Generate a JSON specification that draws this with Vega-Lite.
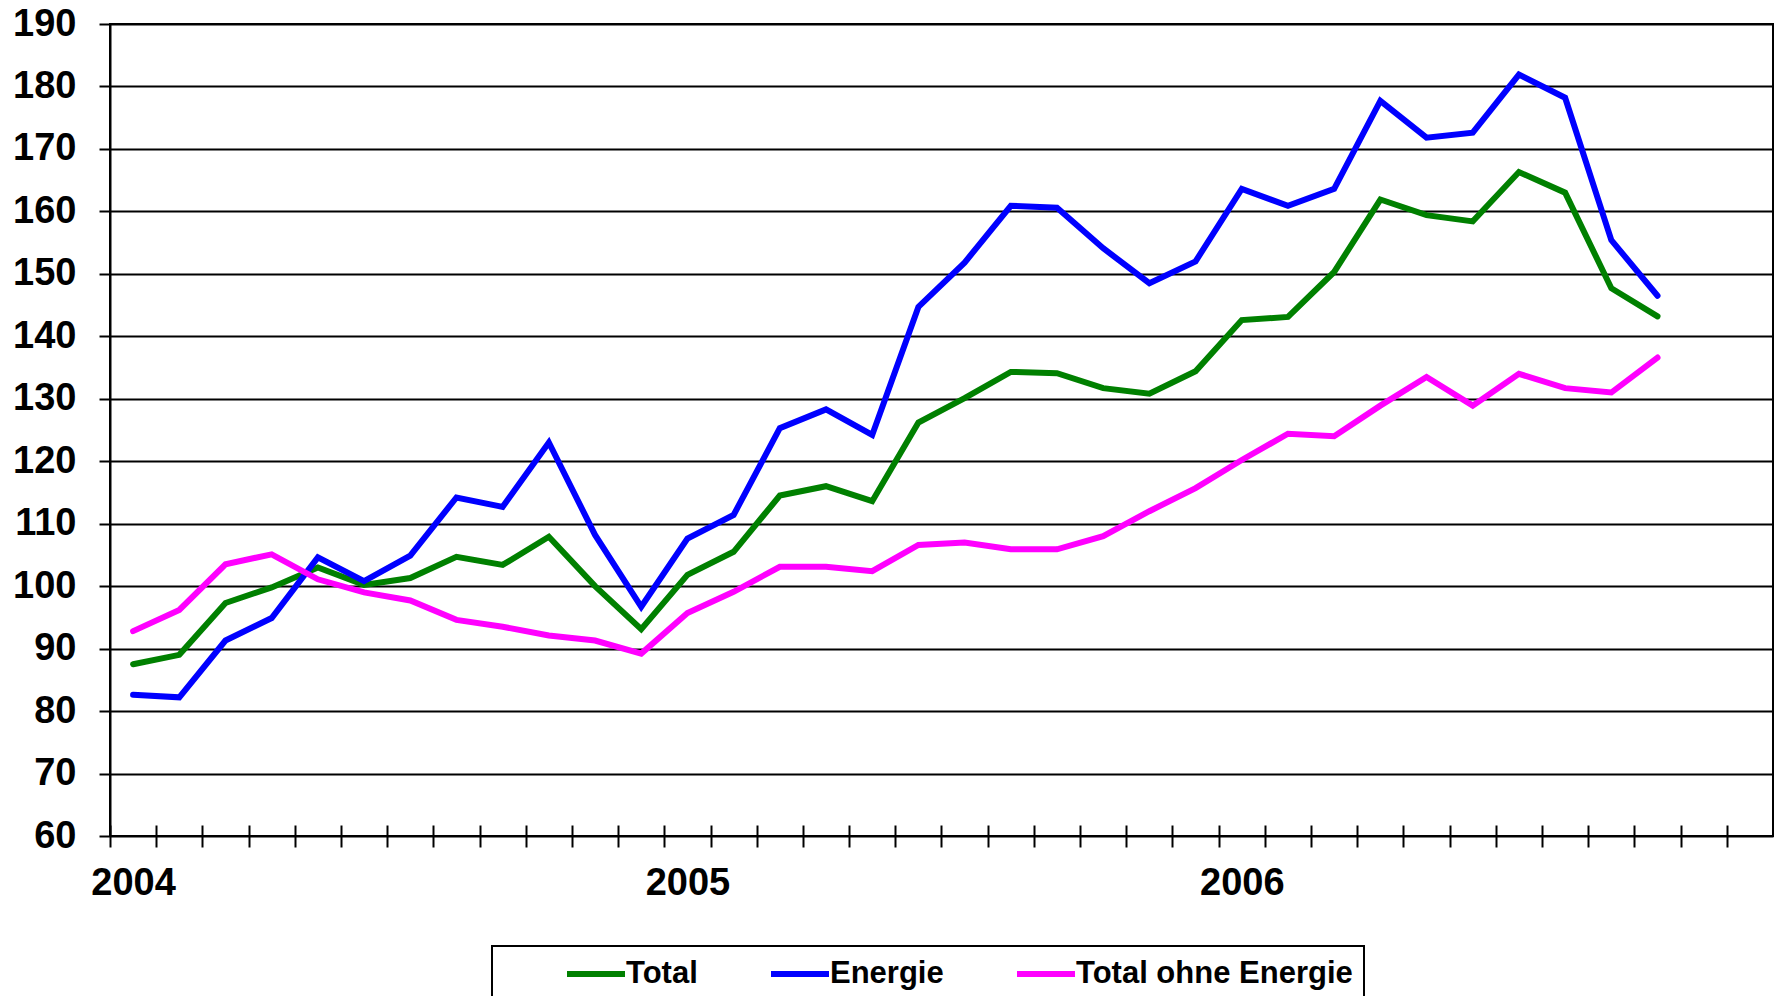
{
  "$schema": "https://vega.github.io/schema/vega-lite/v6.json",
  "width": 1663,
  "height": 812,
  "autosize": {"type": "none"},
  "padding": {"left": 110, "top": 24, "right": 5, "bottom": 160},
  "background": "white",
  "data": {
    "values": [
      {"month": "2004-01", "series": "Total", "value": 87.5},
      {"month": "2004-02", "series": "Total", "value": 89.0},
      {"month": "2004-03", "series": "Total", "value": 97.3},
      {"month": "2004-04", "series": "Total", "value": 99.8},
      {"month": "2004-05", "series": "Total", "value": 103.0},
      {"month": "2004-06", "series": "Total", "value": 100.2},
      {"month": "2004-07", "series": "Total", "value": 101.3},
      {"month": "2004-08", "series": "Total", "value": 104.7},
      {"month": "2004-09", "series": "Total", "value": 103.4},
      {"month": "2004-10", "series": "Total", "value": 107.9},
      {"month": "2004-11", "series": "Total", "value": 100.0},
      {"month": "2004-12", "series": "Total", "value": 93.1},
      {"month": "2005-01", "series": "Total", "value": 101.8},
      {"month": "2005-02", "series": "Total", "value": 105.5},
      {"month": "2005-03", "series": "Total", "value": 114.5},
      {"month": "2005-04", "series": "Total", "value": 116.0},
      {"month": "2005-05", "series": "Total", "value": 113.6},
      {"month": "2005-06", "series": "Total", "value": 126.2},
      {"month": "2005-07", "series": "Total", "value": 130.1},
      {"month": "2005-08", "series": "Total", "value": 134.3},
      {"month": "2005-09", "series": "Total", "value": 134.1},
      {"month": "2005-10", "series": "Total", "value": 131.7},
      {"month": "2005-11", "series": "Total", "value": 130.8},
      {"month": "2005-12", "series": "Total", "value": 134.4},
      {"month": "2006-01", "series": "Total", "value": 142.6},
      {"month": "2006-02", "series": "Total", "value": 143.1},
      {"month": "2006-03", "series": "Total", "value": 150.3},
      {"month": "2006-04", "series": "Total", "value": 161.9},
      {"month": "2006-05", "series": "Total", "value": 159.4},
      {"month": "2006-06", "series": "Total", "value": 158.4},
      {"month": "2006-07", "series": "Total", "value": 166.3},
      {"month": "2006-08", "series": "Total", "value": 163.0},
      {"month": "2006-09", "series": "Total", "value": 147.7},
      {"month": "2006-10", "series": "Total", "value": 143.2},
      {"month": "2004-01", "series": "Energie", "value": 82.6},
      {"month": "2004-02", "series": "Energie", "value": 82.2},
      {"month": "2004-03", "series": "Energie", "value": 91.3},
      {"month": "2004-04", "series": "Energie", "value": 94.9},
      {"month": "2004-05", "series": "Energie", "value": 104.6},
      {"month": "2004-06", "series": "Energie", "value": 100.8},
      {"month": "2004-07", "series": "Energie", "value": 104.9},
      {"month": "2004-08", "series": "Energie", "value": 114.2},
      {"month": "2004-09", "series": "Energie", "value": 112.7},
      {"month": "2004-10", "series": "Energie", "value": 123.0},
      {"month": "2004-11", "series": "Energie", "value": 108.2},
      {"month": "2004-12", "series": "Energie", "value": 96.7},
      {"month": "2005-01", "series": "Energie", "value": 107.6},
      {"month": "2005-02", "series": "Energie", "value": 111.4},
      {"month": "2005-03", "series": "Energie", "value": 125.3},
      {"month": "2005-04", "series": "Energie", "value": 128.3},
      {"month": "2005-05", "series": "Energie", "value": 124.2},
      {"month": "2005-06", "series": "Energie", "value": 144.7},
      {"month": "2005-07", "series": "Energie", "value": 151.8},
      {"month": "2005-08", "series": "Energie", "value": 160.9},
      {"month": "2005-09", "series": "Energie", "value": 160.6},
      {"month": "2005-10", "series": "Energie", "value": 154.1},
      {"month": "2005-11", "series": "Energie", "value": 148.5},
      {"month": "2005-12", "series": "Energie", "value": 152.0},
      {"month": "2006-01", "series": "Energie", "value": 163.6},
      {"month": "2006-02", "series": "Energie", "value": 160.9},
      {"month": "2006-03", "series": "Energie", "value": 163.6},
      {"month": "2006-04", "series": "Energie", "value": 177.7},
      {"month": "2006-05", "series": "Energie", "value": 171.8},
      {"month": "2006-06", "series": "Energie", "value": 172.6},
      {"month": "2006-07", "series": "Energie", "value": 181.9},
      {"month": "2006-08", "series": "Energie", "value": 178.2},
      {"month": "2006-09", "series": "Energie", "value": 155.4},
      {"month": "2006-10", "series": "Energie", "value": 146.5},
      {"month": "2004-01", "series": "Total ohne Energie", "value": 92.8},
      {"month": "2004-02", "series": "Total ohne Energie", "value": 96.2},
      {"month": "2004-03", "series": "Total ohne Energie", "value": 103.5},
      {"month": "2004-04", "series": "Total ohne Energie", "value": 105.1},
      {"month": "2004-05", "series": "Total ohne Energie", "value": 101.1},
      {"month": "2004-06", "series": "Total ohne Energie", "value": 99.0},
      {"month": "2004-07", "series": "Total ohne Energie", "value": 97.7},
      {"month": "2004-08", "series": "Total ohne Energie", "value": 94.6},
      {"month": "2004-09", "series": "Total ohne Energie", "value": 93.5},
      {"month": "2004-10", "series": "Total ohne Energie", "value": 92.1},
      {"month": "2004-11", "series": "Total ohne Energie", "value": 91.3},
      {"month": "2004-12", "series": "Total ohne Energie", "value": 89.2},
      {"month": "2005-01", "series": "Total ohne Energie", "value": 95.7},
      {"month": "2005-02", "series": "Total ohne Energie", "value": 99.1},
      {"month": "2005-03", "series": "Total ohne Energie", "value": 103.1},
      {"month": "2005-04", "series": "Total ohne Energie", "value": 103.1},
      {"month": "2005-05", "series": "Total ohne Energie", "value": 102.4},
      {"month": "2005-06", "series": "Total ohne Energie", "value": 106.6},
      {"month": "2005-07", "series": "Total ohne Energie", "value": 107.0},
      {"month": "2005-08", "series": "Total ohne Energie", "value": 105.9},
      {"month": "2005-09", "series": "Total ohne Energie", "value": 105.9},
      {"month": "2005-10", "series": "Total ohne Energie", "value": 108.0},
      {"month": "2005-11", "series": "Total ohne Energie", "value": 112.0},
      {"month": "2005-12", "series": "Total ohne Energie", "value": 115.7},
      {"month": "2006-01", "series": "Total ohne Energie", "value": 120.2},
      {"month": "2006-02", "series": "Total ohne Energie", "value": 124.4},
      {"month": "2006-03", "series": "Total ohne Energie", "value": 124.0},
      {"month": "2006-04", "series": "Total ohne Energie", "value": 128.9},
      {"month": "2006-05", "series": "Total ohne Energie", "value": 133.5},
      {"month": "2006-06", "series": "Total ohne Energie", "value": 128.9},
      {"month": "2006-07", "series": "Total ohne Energie", "value": 134.0},
      {"month": "2006-08", "series": "Total ohne Energie", "value": 131.7},
      {"month": "2006-09", "series": "Total ohne Energie", "value": 131.0},
      {"month": "2006-10", "series": "Total ohne Energie", "value": 136.6}
    ]
  },
  "mark": {"type": "line", "strokeWidth": 6, "strokeCap": "round"},
  "encoding": {
    "x": {
      "field": "month",
      "type": "ordinal",
      "scale": {
        "type": "point",
        "padding": 0.5,
        "domain": [
          "2004-01", "2004-02", "2004-03", "2004-04", "2004-05", "2004-06",
          "2004-07", "2004-08", "2004-09", "2004-10", "2004-11", "2004-12",
          "2005-01", "2005-02", "2005-03", "2005-04", "2005-05", "2005-06",
          "2005-07", "2005-08", "2005-09", "2005-10", "2005-11", "2005-12",
          "2006-01", "2006-02", "2006-03", "2006-04", "2006-05", "2006-06",
          "2006-07", "2006-08", "2006-09", "2006-10", "2006-11", "2006-12"
        ]
      },
      "axis": {
        "title": null,
        "domain": false,
        "grid": false,
        "offset": -11,
        "tickOffset": -23.1,
        "labelOffset": 23.1,
        "tickSize": 22,
        "tickWidth": 2,
        "tickColor": "black",
        "labelExpr": "slice(datum.value, 5) == '01' ? slice(datum.value, 0, 4) : ''",
        "labelAngle": 0,
        "labelOverlap": false,
        "labelFlush": false,
        "labelPadding": 17,
        "labelFont": "Liberation Sans",
        "labelFontWeight": "bold",
        "labelFontSize": 38,
        "labelColor": "black"
      }
    },
    "y": {
      "field": "value",
      "type": "quantitative",
      "scale": {"domain": [60, 190], "nice": false, "zero": false},
      "axis": {
        "title": null,
        "values": [60, 70, 80, 90, 100, 110, 120, 130, 140, 150, 160, 170, 180, 190],
        "grid": true,
        "gridColor": "black",
        "gridWidth": 2,
        "gridOpacity": 1,
        "domainColor": "black",
        "domainWidth": 2,
        "tickColor": "black",
        "tickWidth": 2,
        "tickSize": 11,
        "labelPadding": 23,
        "labelFont": "Liberation Sans",
        "labelFontWeight": "bold",
        "labelFontSize": 38,
        "labelColor": "black"
      }
    },
    "color": {
      "field": "series",
      "type": "nominal",
      "scale": {
        "domain": ["Total", "Energie", "Total ohne Energie"],
        "range": ["#008000", "#0000FF", "#FF00FF"]
      },
      "legend": {
        "title": " ",
        "titleOrient": "left",
        "titleFontSize": 31,
        "titlePadding": 61,
        "orient": "none",
        "direction": "horizontal",
        "legendX": 382,
        "legendY": 922,
        "padding": 11,
        "clipHeight": 34,
        "strokeColor": "black",
        "symbolType": "stroke",
        "symbolSize": 3364,
        "symbolStrokeWidth": 6,
        "labelOffset": -2,
        "columnPadding": 70,
        "labelLimit": 500,
        "labelFont": "Liberation Sans",
        "labelFontWeight": "bold",
        "labelFontSize": 31,
        "labelColor": "black"
      }
    }
  },
  "config": {
    "view": {"stroke": "black", "strokeWidth": 2},
    "legend": {"strokeWidth": 2}
  }
}
